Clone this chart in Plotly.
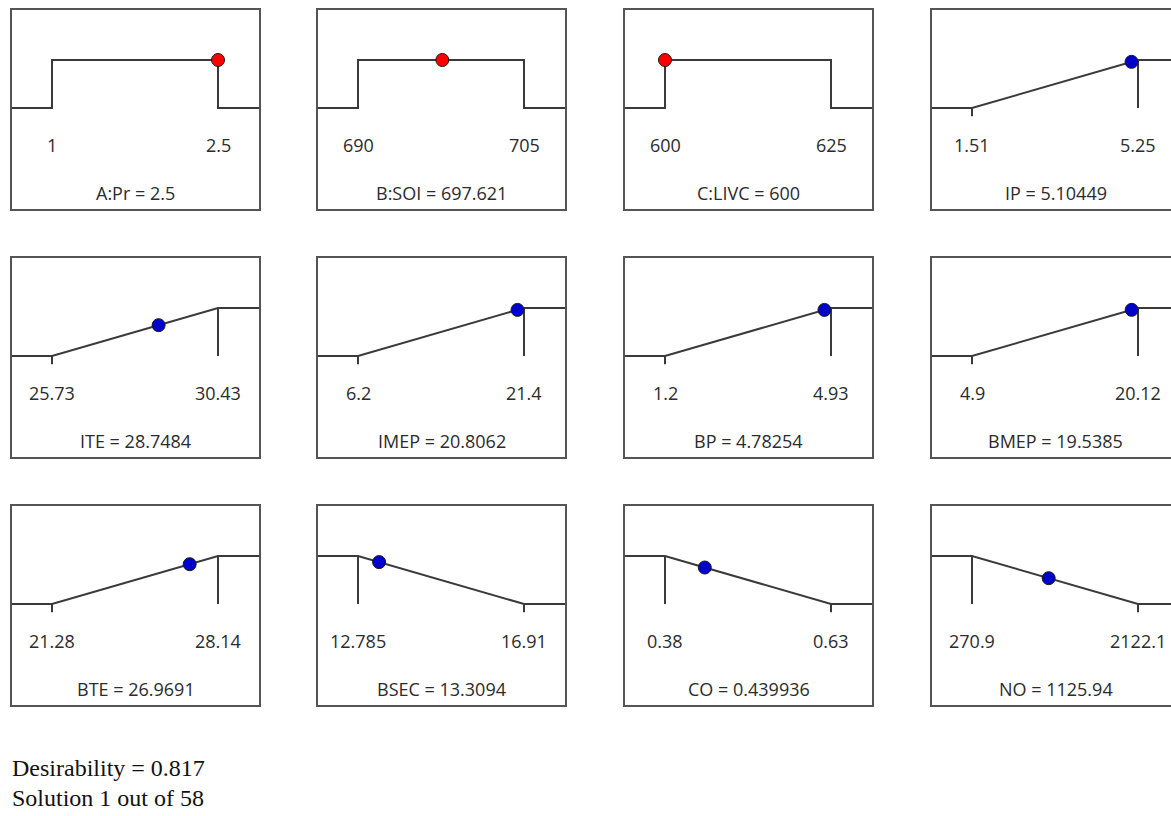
import plotly.graph_objects as go

# ---- data ----
names = ["A:Pr", "B:SOI", "C:LIVC", "IP", "ITE", "IMEP", "BP", "BMEP",
         "BTE", "BSEC", "CO", "NO"]
lows = [1, 690, 600, 1.51, 25.73, 6.2, 1.2, 4.9, 21.28, 12.785, 0.38, 270.9]
highs = [2.5, 705, 625, 5.25, 30.43, 21.4, 4.93, 20.12, 28.14, 16.91, 0.63, 2122.1]
values = [2.5, 697.621, 600, 5.10449, 28.7484, 20.8062, 4.78254, 19.5385,
          26.9691, 13.3094, 0.439936, 1125.94]
goals = ["range", "range", "range", "max", "max", "max", "max", "max",
         "max", "min", "min", "min"]
desirability_text = "Desirability = 0.817"
solution_text = "Solution 1 out of 58"

# ---- layout constants (pixels) ----
W, H = 1171, 816
col_left = [12, 318, 625, 932]
row_top = [10, 258, 506]
BOX_W, BOX_H = 247, 199
LO_PX, HI_PX = 40, 206          # limit positions inside the box
TOP_OFF, BASE_OFF = 50, 98      # y offsets of d=1 and d=0 lines
PXU = BASE_OFF - TOP_OFF        # pixels per desirability unit
TICK_OFF, TITLE_OFF = 135, 183

LINE_C = "#3a3a3a"
BOX_C = "#555555"
TXT_C = "#2b2b2b"
FONT = "Open Sans"

fig = go.Figure()
annotations = []

for i, name in enumerate(names):
    r, c = divmod(i, 4)
    lo, hi, v, g = lows[i], highs[i], values[i], goals[i]
    s = (hi - lo) / (HI_PX - LO_PX)
    xmin = lo - LO_PX * s
    xmax_full = lo + (BOX_W - LO_PX) * s
    left = col_left[c]
    right = min(left + BOX_W, W)
    xmax = xmin + (right - left) * s
    top = row_top[r]
    ax = "" if i == 0 else str(i + 1)
    xa, ya = "x" + ax, "y" + ax

    ytop = 1 + TOP_OFF / PXU
    ybot = -(BOX_H - BASE_OFF) / PXU
    tick = 0.17

    if g == "range":
        xs = [xmin, lo, lo, hi, hi, xmax_full]
        ys = [0, 0, 1, 1, 0, 0]
        d = 1.0
        extra = []
        col = "#ff0000"
    elif g == "max":
        xs = [xmin, lo, hi, xmax_full]
        ys = [0, 0, 1, 1]
        d = (v - lo) / (hi - lo)
        extra = [([lo, lo], [0, -tick]), ([hi, hi], [1, 0])]
        col = "#0000cc"
    else:
        xs = [xmin, lo, hi, xmax_full]
        ys = [1, 1, 0, 0]
        d = (hi - v) / (hi - lo)
        extra = [([lo, lo], [1, 0]), ([hi, hi], [0, -tick])]
        col = "#0000cc"

    fig.add_trace(go.Scatter(x=xs, y=ys, mode="lines", xaxis=xa, yaxis=ya,
                             line=dict(color=LINE_C, width=2),
                             hoverinfo="skip", showlegend=False))
    for ex, ey in extra:
        fig.add_trace(go.Scatter(x=ex, y=ey, mode="lines", xaxis=xa, yaxis=ya,
                                 line=dict(color=LINE_C, width=2),
                                 hoverinfo="skip", showlegend=False))
    fig.add_trace(go.Scatter(x=[v], y=[d], mode="markers", xaxis=xa, yaxis=ya,
                             marker=dict(size=13, color=col,
                                         line=dict(color="#1a1a1a", width=1)),
                             cliponaxis=False, showlegend=False))

    dom_x = [left / W, right / W]
    dom_y = [1 - (top + BOX_H) / H, 1 - top / H]
    last_col = (c == 3)
    fig.update_layout(**{
        ("xaxis" + ax): dict(domain=dom_x, range=[xmin, xmax], anchor=ya,
                             showgrid=False, zeroline=False, showticklabels=False,
                             ticks="", showline=True, mirror=True,
                             linecolor=BOX_C, linewidth=2, fixedrange=True),
        ("yaxis" + ax): dict(domain=dom_y, range=[ybot, ytop], anchor=xa,
                             showgrid=False, zeroline=False, showticklabels=False,
                             ticks="", showline=True,
                             mirror=False if last_col else True,
                             linecolor=BOX_C, linewidth=2, fixedrange=True),
    })

    ty = -(TICK_OFF - BASE_OFF) / PXU
    for xv in (lo, hi):
        annotations.append(dict(x=xv, y=ty, xref=xa, yref=ya, text=f"{xv:g}",
                                showarrow=False, xanchor="center", yanchor="middle",
                                font=dict(family=FONT, size=18, color=TXT_C)))
    annotations.append(dict(x=xmin + BOX_W / 2 * s, y=-(TITLE_OFF - BASE_OFF) / PXU,
                            xref=xa, yref=ya, text=f"{name} = {v:g}",
                            showarrow=False, xanchor="center", yanchor="middle",
                            font=dict(family=FONT, size=18, color=TXT_C)))

annotations.append(dict(x=10 / W, y=1 - 768 / H, xref="paper", yref="paper",
                        text=desirability_text, showarrow=False,
                        xanchor="left", yanchor="middle",
                        font=dict(family="Liberation Serif", size=24, color="#111111")))
annotations.append(dict(x=10 / W, y=1 - 798 / H, xref="paper", yref="paper",
                        text=solution_text, showarrow=False,
                        xanchor="left", yanchor="middle",
                        font=dict(family="Liberation Serif", size=24, color="#111111")))

fig.update_layout(width=W, height=H, margin=dict(l=0, r=0, t=0, b=0),
                  paper_bgcolor="white", plot_bgcolor="white",
                  annotations=annotations, showlegend=False)

fig.write_html("out.html")
